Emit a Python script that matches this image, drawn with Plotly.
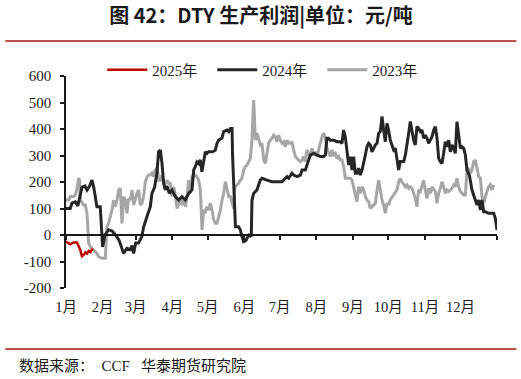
import pandas as pd
import plotly.graph_objects as go

# ---------------- data (day offset from Jan 1, value in 元/吨) ----------------
days_2025 = [0, 3.6, 6.4, 9.3, 12, 13.5, 15, 16.4, 17.8, 19.2, 20.6, 22, 22.6]
profit_2025 = [-25, -35, -28, -28, -55, -80, -75, -65, -70, -60, -65, -55, -52]

days_2024 = [0, 3.6, 5, 7.9, 10, 13.5, 16, 17.8, 20, 22, 23.5, 24.8, 26.2, 29, 30, 31, 33, 36, 39, 42,
             45, 48.8, 51.6, 54.5, 55.9, 57.3, 59, 61.5, 64.3, 65.7, 68.6, 71.4, 72.8, 75, 77, 78.4,
             79.9, 81.3, 82.7, 84, 85.5, 87.5, 89.8, 92.6, 95.4, 98.2, 101, 103.9, 106.7, 108.1,
             109.5, 110.9, 112.3, 113.7, 115.1, 116.6, 118, 119.4, 120.8, 124, 126.4, 127.9, 129.3,
             132, 133.5, 136.3, 137.8, 139.2, 140.6, 141.1, 142, 142.8, 143.5, 146.2, 147.6, 149,
             150.4, 152.4, 154.7, 156.9, 157.5, 158.9, 161.7, 164.5, 166, 170.2, 174.4, 182.9, 185.7,
             187.2, 188.6, 191.4, 192.8, 195.6, 198.5, 199.9, 202.7, 204.1, 205.5, 206.9, 209.7,
             212.6, 215.4, 218.2, 219.6, 221, 222.4, 223.8, 226.7, 229.5, 232.3, 233.7, 235.1, 236.5,
             237.9, 239.4, 240.8, 242.2, 243.6, 245, 246.4, 247.8, 249.2, 250.7, 253.5, 254.9, 256.3,
             257.7, 259.1, 260.5, 262, 263.4, 264.8, 266.2, 267.6, 269, 270.4, 271.8, 273.2, 274.6,
             276, 277.5, 278.9, 280.3, 281.7, 283.1, 284.5, 286, 287.4, 288.8, 290.2, 291.6, 293,
             294.4, 295.8, 297.2, 298.6, 300.1, 301.5, 302.9, 304.3, 305.7, 307.1, 308.6, 310, 311.4,
             312.8, 314.2, 315.6, 317, 318.4, 319.8, 321.2, 322.7, 324.1, 325.5, 326.9, 328.3, 329.7,
             331.1, 332.5, 334, 335.4, 336.8, 338.2, 339.6, 341.6, 343.8, 345.2, 346.7, 348.1, 349.5,
             350.9, 352.3, 353.7, 355.1, 357.9, 360.8, 362.2, 363.6, 365]
profit_2024 = [100, 100, 120, 125, 110, 180, 185, 170, 185, 207, 180, 145, 107, 107, 40, -45, 0, 20, 15, 0,
               -20, -70, -50, -55, -40, -70, -30, -30, -5, 30, 70, 107, 157, 180, 233, 314,
               320, 270, 195, 170, 185, 157, 170, 145, 132, 145, 132, 157, 170, 245,
               258, 276, 270, 283, 239, 283, 314, 308, 314, 314, 320, 346, 358,
               365, 390, 396, 390, 402, 402, 296, 195, 44, 31, 31, 20, -6,
               -25, -20, 0, -6, 132, 157, 170, 207, 214, 207, 201, 201, 214,
               220, 214, 233, 226, 220, 226, 245, 245, 264, 289, 302, 308,
               302, 296, 296, 302, 365, 365, 358, 358, 352, 352, 346, 396, 371,
               308, 264, 296, 245, 296, 233, 233, 252, 226, 245, 302, 333, 346,
               340, 314, 327, 340, 346, 384, 390, 447, 396, 352, 421, 396, 358,
               340, 321, 327, 277, 245, 277, 277, 277, 302, 352, 384, 428, 384,
               358, 340, 409, 403, 390, 396, 365, 377, 365, 346, 358, 371, 396,
               409, 365, 289, 277, 270, 308, 352, 333, 358, 314, 340, 327, 308,
               428, 377, 327, 333, 327, 302, 245, 226, 170, 151, 126, 113, 132,
               94, 132, 88, 88, 82, 82, 82, 63, 19]

days_2023 = [0, 2.2, 3.6, 6.5, 7.9, 9.3, 10.7, 11.5, 12.1, 13.5, 14.9, 16.3, 17.8, 19.2, 20.6, 23.4,
             26.2, 27.6, 30.5, 33.3, 34.7, 36.1, 37.5, 38.9, 40.3, 41.8, 43.2, 44.6, 46, 47.4, 48.8,
             50.2, 51.6, 53.1, 54.5, 55.9, 57.3, 58.7, 60.1, 61.5, 62.9, 64.3, 65.7, 67.2, 68.6, 70,
             71.4, 72.8, 74.2, 75.6, 77, 77.7, 78.4, 79.9, 81.3, 82.7, 84.1, 85.5, 86.9, 88.3, 89.8,
             91.2, 92.6, 94, 95.4, 96.8, 98.2, 99.7, 101.1, 102.5, 103.9, 105.3, 106.7, 108.1, 109.5,
             110.9, 112.4, 113.8, 115.2, 116.6, 118, 119.4, 120.8, 122.2, 123.6, 125.1, 126.5, 127.9,
             129.3, 130.7, 132.1, 133.5, 135, 136.4, 137.8, 139.2, 140.6, 142, 142.8, 143.4, 144.8,
             146.2, 147.6, 149, 150.5, 151.9, 153.3, 154.7, 156.1, 157.5, 158.9, 159.8, 160.4, 161.8,
             163.2, 164.6, 166, 167.4, 168.8, 170.2, 171.6, 173, 174.5, 175.9, 177.3, 178.7, 180.1,
             181.5, 182.9, 184.3, 185.8, 187.2, 188.6, 190, 191.4, 192.8, 194.2, 195.6, 197.1, 198.5,
             199.9, 201.3, 202.7, 204.1, 205.5, 206.9, 208.3, 209.7, 211.2, 212.6, 214, 215.4, 216.8,
             218.2, 219.6, 221, 222.4, 223.8, 225.3, 226.7, 228.1, 229.5, 230.9, 232.3, 233.7, 235.1,
             236.6, 239.4, 240.8, 242.2, 243.6, 245, 246.4, 247.8, 249.2, 250.7, 252.1, 253.5, 254.9,
             256.3, 257.7, 259.1, 260.5, 262, 263.4, 264.8, 266.2, 267.6, 269, 270.4, 271.8, 273.2,
             274.6, 277.5, 280.3, 281.7, 283.1, 284.5, 286, 287.4, 288.8, 290.2, 291.6, 293, 294.4,
             295.8, 297.2, 298.6, 300.1, 301.5, 302.9, 304.3, 305.7, 307.1, 308.6, 310, 311.4, 312.8,
             314.2, 315.6, 317, 318.4, 319.8, 321.2, 322.7, 324.1, 325.5, 326.9, 328.3, 329.7, 331.1,
             332.5, 334, 335.4, 336.8, 338.2, 339.6, 341, 342.4, 343.8, 345.2, 346.7, 348.1, 349.5,
             350.9, 352.3, 353.7, 355.1, 356.5, 357.9, 359.3, 360.8, 362.2]
profit_2023 = [132, 132, 145, 145, 151, 176, 214, 207, 132, 120, 113, 113, 82, -31, -44, -57,
               -69, -82, -88, -88, 31, 44, 69, 94, 132, 107, 132, 170, 176, 44, 145,
               132, 82, 138, 132, 170, 113, 138, 157, 170, 113, 120, 145, 201, 220, 226,
               226, 233, 220, 245, 252, 239, 207, 207, 226, 201, 195, 207, 195, 195, 145,
               182, 151, 100, 120, 132, 113, 138, 107, 145, 207, 157, 220, 220, 226,
               220, 207, 170, 19, 94, 88, 107, 94, 120, 94, 57, 44, 44,
               69, 94, 132, 157, 201, 170, 145, 145, 120, 100, 170, 182, 189,
               195, 207, 214, 245, 258, 264, 277, 289, 358, 509, 421, 358, 384,
               358, 340, 346, 283, 270, 308, 346, 358, 365, 377, 371, 352, 377,
               358, 346, 352, 333, 358, 346, 346, 352, 321, 296, 289, 283, 277,
               283, 296, 277, 321, 308, 296, 327, 302, 314, 296, 321, 346, 371,
               384, 365, 327, 314, 296, 321, 302, 308, 289, 296, 283, 283, 258,
               214, 214, 214, 207, 182, 157, 126, 182, 157, 182, 170, 145, 132,
               126, 100, 107, 113, 120, 170, 207, 170, 132, 113, 82, 120, 113,
               132, 151, 170, 201, 214, 201, 189, 182, 189, 176, 182, 176, 157,
               138, 107, 170, 164, 182, 207, 170, 138, 176, 157, 182, 170, 164,
               120, 157, 176, 201, 182, 157, 170, 164, 170, 176, 189, 182, 214,
               182, 164, 157, 151, 151, 245, 252, 233, 245, 277, 283, 252, 220,
               214, 145, 120, 145, 164, 182, 189, 170, 189]

month_labels = ["1月", "2月", "3月", "4月", "5月", "6月", "7月", "8月", "9月", "10月", "11月", "12月"]
y_ticks = [-200, -100, 0, 100, 200, 300, 400, 500, 600]
y_tick_labels = ["-200", "-100", "0", "100", "200", "300", "400", "500", "600"]
series_names = ["2025年", "2024年", "2023年"]

# ---------------- helpers ----------------
BASE = pd.Timestamp("2023-01-01")


def to_dates(days):
    return [BASE + pd.Timedelta(days=float(d)) for d in days]


month_starts = [pd.Timestamp(2023, m, 1) for m in range(1, 13)]
month_edges = month_starts + [pd.Timestamp(2024, 1, 1)]
x_range = [BASE, pd.Timestamp(2024, 1, 1)]

# the page body margin is removed (post_script), so the figure fills the 521x379 window
W, H = 521, 379
PL, PR, PT, PB = 65.7, 496.7, 76, 288      # plot area in page pixels
pw, ph = PR - PL, PB - PT


def px(x):   # page x -> paper fraction
    return (x - PL) / pw


def py(y):   # page y -> paper fraction
    return (PB - y) / ph


fig = go.Figure()
fig.add_trace(go.Scatter(x=to_dates(days_2023), y=profit_2023, mode="lines", name=series_names[2],
                         line=dict(color="#a6a6a6", width=3)))
fig.add_trace(go.Scatter(x=to_dates(days_2024), y=profit_2024, mode="lines", name=series_names[1],
                         line=dict(color="#262626", width=3)))
fig.add_trace(go.Scatter(x=to_dates(days_2025), y=profit_2025, mode="lines", name=series_names[0],
                         line=dict(color="#c00000", width=2.5)))
# invisible helper trace to bind the zero-line axis
fig.add_trace(go.Scatter(x=x_range, y=[None, None], xaxis="x2", showlegend=False,
                         hoverinfo="skip", mode="lines"))

serif = "Liberation Serif, Noto Sans CJK SC, serif"
ink = "#1a1a1a"

fig.update_layout(
    width=W, height=H,
    margin=dict(l=PL, r=W - PR, t=PT, b=H - PB, autoexpand=False),
    paper_bgcolor="white", plot_bgcolor="white",
    title=dict(text="<b>图 42：DTY 生产利润|单位：元/吨</b>", x=261 / W, xanchor="center",
               xref="container", y=1 - 16 / H, yref="container", yanchor="middle",
               font=dict(family="Noto Sans CJK SC, sans-serif", size=20, color=ink)),
    font=dict(family=serif, size=14.5, color=ink),
    showlegend=True,
    legend=dict(orientation="h", x=px(102), xanchor="left",
                y=py(70), yanchor="middle", entrywidth=55, entrywidthmode="pixels",
                itemwidth=40,
                font=dict(family=serif, size=15, color=ink),
                traceorder="reversed", bgcolor="rgba(0,0,0,0)"),
    xaxis=dict(type="date", range=x_range, tickmode="array", tickvals=month_starts,
               ticktext=month_labels, showline=False, showgrid=False, zeroline=False,
               ticks="outside", ticklen=6, tickcolor="rgba(0,0,0,0)",
               tickfont=dict(family=serif, size=14.5, color=ink)),
    xaxis2=dict(type="date", overlaying="x", matches="x", anchor="free", position=0.25,
                side="bottom", range=x_range, tickmode="array", tickvals=month_edges,
                showticklabels=False, showline=True, linecolor=ink, linewidth=1.5,
                ticks="outside", ticklen=4, tickwidth=1.5, tickcolor=ink,
                showgrid=False, zeroline=False),
    yaxis=dict(range=[-200, 600], tickmode="array", tickvals=y_ticks, ticktext=y_tick_labels,
               showline=True, linecolor=ink, linewidth=1.5,
               ticks="outside", ticklen=4, tickwidth=1.5, tickcolor=ink,
               ticklabelstandoff=6,
               showgrid=False, zeroline=False,
               tickfont=dict(family=serif, size=15, color=ink)),
    shapes=[
        dict(type="line", xref="paper", yref="paper", x0=px(5), x1=px(516),
             y0=py(41), y1=py(41), line=dict(color="#c0504d", width=2)),
        dict(type="line", xref="paper", yref="paper", x0=px(5), x1=px(516),
             y0=py(349), y1=py(349), line=dict(color="#c0504d", width=2)),
    ],
    annotations=[
        dict(text="数据来源：  CCF   华泰期货研究院", xref="paper", yref="paper",
             x=px(17), y=py(365), xanchor="left", yanchor="middle",
             showarrow=False, font=dict(family=serif, size=15, color=ink)),
    ],
)

fig.write_html("out.html", config={"displayModeBar": False},
               post_script="document.body.style.margin='0';document.body.style.overflow='hidden';")
